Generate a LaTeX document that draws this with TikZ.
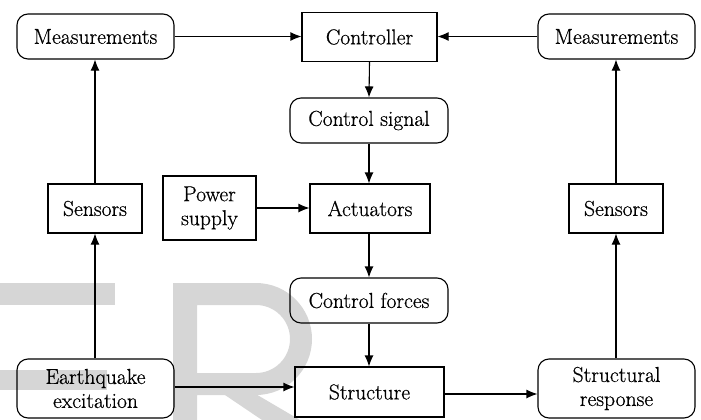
\documentclass[tikz,border=0pt]{standalone}
\usepackage{fontspec}
\newfontfamily\diafont{Latin Modern Roman}[FakeBold=0.6]
\usetikzlibrary{arrows.meta}
\begin{document}
\begin{tikzpicture}[x=1pt,y=-1pt,
  box/.style={draw, line width=1.1pt, inner sep=0pt, align=center,
    font=\diafont\fontsize{21.6}{24}\selectfont},
  rbox/.style={box, rounded corners=11pt},
  arr/.style={-{Latex[length=11pt,width=9pt]}, line width=1.1pt},
  wm/.style={fill=black!16, draw=none}]
\useasboundingbox (0,0) rectangle (701,420);
% watermark
\fill[wm] (0,283) rectangle (115,305);
\fill[wm] (0,370) rectangle (107,390);
\fill[wm, even odd rule] (173,283) -- (256,283) arc[start angle=90, end angle=-90, radius=56pt] -- (197,395) -- (197,420) -- (173,420) -- cycle
  (197,305) -- (256,305) arc[start angle=90, end angle=-90, radius=34pt] -- (197,373) -- cycle;
\fill[wm] (222,393) -- (254,393) -- (300,420) -- (262,420) -- cycle;
% nodes
\node[rbox, minimum width=157pt, minimum height=45pt] (m1) at (95.5,36.5) {Measurements};
\node[box, minimum width=135pt, minimum height=49pt] (ctrl) at (369.5,37) {Controller};
\node[rbox, minimum width=157pt, minimum height=45pt] (m2) at (616.5,36.5) {Measurements};
\node[rbox, minimum width=158pt, minimum height=45pt] (cs) at (369,120.5) {Control signal};
\node[box, minimum width=94pt, minimum height=49pt] (s1) at (95,208.5) {Sensors};
\node[box, minimum width=93pt, minimum height=64pt] (ps) at (209.5,208) {Power\\supply};
\node[box, minimum width=120pt, minimum height=49pt] (act) at (370,208.5) {Actuators};
\node[box, minimum width=94pt, minimum height=49pt] (s2) at (616,208.5) {Sensors};
\node[rbox, minimum width=158pt, minimum height=45pt] (cf) at (369,300.5) {Control forces};
\node[rbox, minimum width=157pt, minimum height=59pt] (eq) at (95.5,388.5) {Earthquake\\excitation};
\node[box, minimum width=149pt, minimum height=50pt] (st) at (369.5,392) {Structure};
\node[rbox, minimum width=157pt, minimum height=59pt] (sr) at (616.5,388.5) {Structural\\response};
% connectors
\draw[arr] (m1.east) -- (ctrl.west|-m1.east);
\draw[arr] (m2.west) -- (ctrl.east|-m2.west);
\draw[arr] (ctrl.south) -- (cs.north);
\draw[arr] (cs.south) -- (cs.south|-act.north);
\draw[arr] (ps.east) -- (act.west|-ps.east);
\draw[arr] (act.south-|cf.south) -- (cf.north);
\draw[arr] (cf.south) -- (cf.south|-st.north);
\draw[arr] ([yshift=1.5pt]eq.east) -- ([yshift=1.5pt]eq.east-|st.west);
\draw[arr] ([yshift=-2pt]st.east) -- ([yshift=-2pt]st.east-|sr.west);
\draw[arr] (eq.north-|s1.south) -- (s1.south);
\draw[arr] (s1.north) -- (s1.north|-m1.south);
\draw[arr] (sr.north-|s2.south) -- (s2.south);
\draw[arr] (s2.north) -- (s2.north|-m2.south);
\end{tikzpicture}
\end{document}
